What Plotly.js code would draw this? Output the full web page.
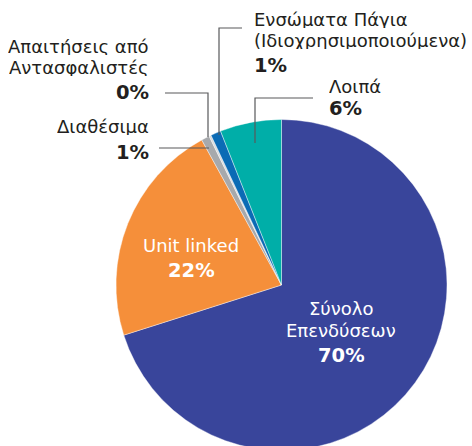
<!DOCTYPE html>
<html><head><meta charset="utf-8">
<script src="https://cdn.plot.ly/plotly-3.0.1.min.js"></script>
<style>html,body{margin:0;padding:0;overflow:hidden;background:#fff}#c{width:472px;height:455px}</style>
</head><body><div id="c"></div>
<script>
// Data
const labels = ["Σύνολο Επενδύσεων", "Unit linked", "Διαθέσιμα", "Απαιτήσεις από Αντασφαλιστές", "Ενσώματα Πάγια (Ιδιοχρησιμοποιούμενα)", "Λοιπά"];
const values = [70.1, 21.9, 0.8, 0.2, 1.0, 6.0];
const pctText = ["70%", "22%", "1%", "0%", "1%", "6%"];
const nameLines = [["Σύνολο", "Επενδύσεων"], ["Unit linked"], ["Διαθέσιμα"], ["Απαιτήσεις από", "Αντασφαλιστές"], ["Ενσώματα Πάγια", "(Ιδιοχρησιμοποιούμενα)"], ["Λοιπά"]];
const colors = ["#39459b", "#f58f3a", "#a7a9ac", "#d9dadb", "#0b6bb5", "#00aea8"];

// Layout (pixel geometry)
const W = 472, H = 455;
const cx = 281.5, cy = 285, R = 165.5;
const px = x => x / W, py = y => (H - y) / H;
const place = [
  {x: 341, anchor: "center", base: [315, 337], pb: 362, col: "#ffffff"},
  {x: 191, anchor: "center", base: [252], pb: 277, col: "#ffffff"},
  {x: 151, anchor: "right", base: [133], pb: 159, col: "#231f20"},
  {x: 151, anchor: "right", base: [53, 74], pb: 99, col: "#231f20"},
  {x: 252, anchor: "left", base: [26, 47], pb: 72, col: "#231f20"},
  {x: 327, anchor: "left", base: [93], pb: 115, col: "#231f20"}
];
const leaders = [
  null, null,
  [[159, 148], [209, 148]],
  [[165, 93], [208, 93], [208, 137]],
  [[242, 28], [219, 28], [219, 135]],
  [[313, 98], [255, 98], [255, 143]]
];

const FS = 18, PS = 19.5;
const FAM = "DejaVu Sans, Noto Sans, sans-serif";
const annotations = [];
labels.forEach((lab, i) => {
  const p = place[i];
  nameLines[i].forEach((t, k) => {
    annotations.push({text: t, xref: "paper", yref: "paper", x: px(p.x), y: py(p.base[k] - 0.36 * FS),
      xanchor: p.anchor, yanchor: "middle", showarrow: false, height: 17,
      font: {family: FAM, size: FS, color: p.col}});
  });
  annotations.push({text: "<b>" + pctText[i] + "</b>", xref: "paper", yref: "paper", x: px(p.x), y: py(p.pb - 0.36 * PS),
    xanchor: p.anchor, yanchor: "middle", showarrow: false, height: 18,
    font: {family: FAM, size: PS, color: p.col}});
});
const shapes = [];
leaders.forEach(l => {
  if (!l) return;
  let path = l.map((pt, k) => (k ? "L" : "M") + px(pt[0]) + "," + py(pt[1])).join(" ");
  shapes.push({type: "path", xref: "paper", yref: "paper", path: path, line: {color: "#58595b", width: 1.2}});
});

Plotly.newPlot("c", [{
  type: "pie", labels: labels, values: values, sort: false, direction: "clockwise", rotation: 0,
  marker: {colors: colors, line: {color: "#ffffff", width: 0.4}},
  textinfo: "none", hoverinfo: "label+percent",
  domain: {x: [px(cx - R), px(cx + R)], y: [py(cy + R), py(cy - R)]}
}], {
  width: W, height: H, margin: {l: 0, r: 0, t: 0, b: 0}, showlegend: false,
  paper_bgcolor: "#fff", annotations: annotations, shapes: shapes
}, {staticPlot: true});
</script></body></html>
